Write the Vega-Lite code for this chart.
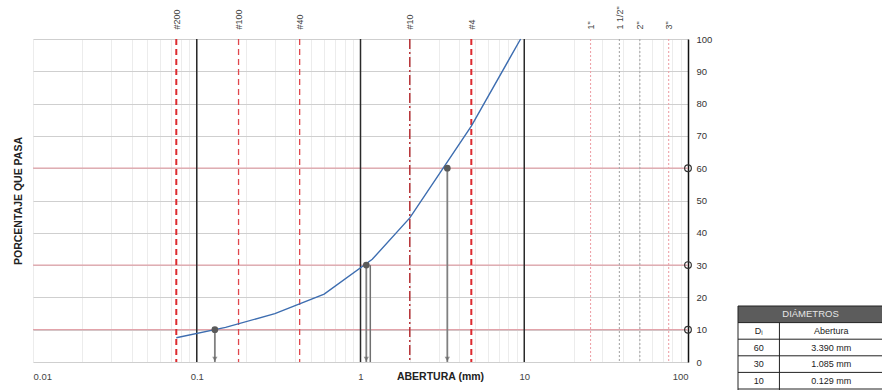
{
  "$schema": "https://vega.github.io/schema/vega-lite/v6.json",
  "padding": {"left": 13, "top": 5, "right": 0, "bottom": 0},
  "autosize": {"type": "pad"},
  "spacing": 25,
  "config": {"view": {"stroke": null}, "font": "Liberation Sans"},
  "datasets": {
    "curva": [
      {"abertura": 0.075, "pasa": 7.5},
      {"abertura": 0.15, "pasa": 10.7},
      {"abertura": 0.3, "pasa": 15.0},
      {"abertura": 0.6, "pasa": 21.0},
      {"abertura": 1.18, "pasa": 31.8},
      {"abertura": 2.0, "pasa": 44.6},
      {"abertura": 4.75, "pasa": 73.0},
      {"abertura": 9.5, "pasa": 100}
    ],
    "tamices": [
      {"tamiz": "#200", "abertura": 0.075},
      {"tamiz": "#100", "abertura": 0.18},
      {"tamiz": "#40", "abertura": 0.425},
      {"tamiz": "#10", "abertura": 2.0},
      {"tamiz": "#4", "abertura": 4.75},
      {"tamiz": "1\"", "abertura": 25.4},
      {"tamiz": "1 1/2\"", "abertura": 38.1},
      {"tamiz": "2\"", "abertura": 50.8},
      {"tamiz": "3\"", "abertura": 76.2}
    ],
    "decadas": [{"abertura": 0.1}, {"abertura": 1}, {"abertura": 10}],
    "diametros": [
      {"d": "D60", "pasa": 60, "abertura": 3.39},
      {"d": "D30", "pasa": 30, "abertura": 1.085},
      {"d": "D10", "pasa": 10, "abertura": 0.129}
    ],
    "filas": [{"fila": "h"}, {"fila": "Di"}, {"fila": "60"}, {"fila": "30"}, {"fila": "10"}, {"fila": "end"}],
    "bordes": [
      {"col": "borde", "desde": "h", "hasta": "end"},
      {"col": "div", "desde": "Di", "hasta": "end"}
    ],
    "celdas": [
      {"fila": "h", "col": "titulo", "texto": "DIÁMETROS"},
      {"fila": "Di", "col": "D", "texto": "Dᵢ"},
      {"fila": "Di", "col": "Abertura", "texto": "Abertura"},
      {"fila": "60", "col": "D", "texto": "60"},
      {"fila": "60", "col": "Abertura", "texto": "3.390 mm"},
      {"fila": "30", "col": "D", "texto": "30"},
      {"fila": "30", "col": "Abertura", "texto": "1.085 mm"},
      {"fila": "10", "col": "D", "texto": "10"},
      {"fila": "10", "col": "Abertura", "texto": "0.129 mm"}
    ]
  },
  "hconcat": [
    {
      "width": 655,
      "height": 323,
      "resolve": {"axis": {"x": "independent", "y": "independent"}},
      "layer": [
        {
          "data": {"name": "diametros"},
          "mark": {"type": "rule", "color": "#e2a3aa", "strokeWidth": 1.2},
          "encoding": {
            "y": {"field": "pasa", "type": "quantitative", "scale": {"domain": [0, 100], "nice": false}, "axis": null}
          }
        },
        {
          "data": {"name": "decadas"},
          "mark": {"type": "rule", "color": "#2a2a2a", "strokeWidth": 1.5},
          "encoding": {
            "x": {"field": "abertura", "type": "quantitative", "scale": {"type": "log", "domain": [0.01, 100], "nice": false}, "axis": null}
          }
        },
        {
          "data": {"name": "tamices"},
          "transform": [{"filter": {"field": "tamiz", "oneOf": ["#200", "#4"]}}],
          "mark": {"type": "rule", "color": "#dd2a2f", "strokeWidth": 2, "strokeDash": [6, 4]},
          "encoding": {
            "x": {
              "field": "abertura", "type": "quantitative",
              "scale": {"type": "log", "domain": [0.01, 100], "nice": false},
              "axis": {
                "orient": "top", "title": null, "grid": false, "domain": false, "ticks": false, "tickSize": 0,
                "values": [0.075, 0.18, 0.425, 2, 4.75, 25.4, 38.1, 50.8, 76.2],
                "labelExpr": "datum.value == 0.075 ? '#200' : datum.value == 0.18 ? '#100' : datum.value == 0.425 ? '#40' : datum.value == 2 ? '#10' : datum.value == 4.75 ? '#4' : datum.value == 25.4 ? '1\"' : datum.value == 38.1 ? '1 1/2\"' : datum.value == 50.8 ? '2\"' : '3\"'",
                "labelAngle": -90, "labelPadding": 10, "labelFontSize": 9, "labelColor": "#444", "labelOverlap": false
              }
            }
          }
        },
        {
          "data": {"name": "tamices"},
          "transform": [{"filter": {"field": "tamiz", "oneOf": ["#100", "#40"]}}],
          "mark": {"type": "rule", "color": "#e0464c", "strokeWidth": 1.3, "strokeDash": [6, 4]},
          "encoding": {
            "x": {"field": "abertura", "type": "quantitative", "scale": {"type": "log", "domain": [0.01, 100], "nice": false}, "axis": null}
          }
        },
        {
          "data": {"name": "tamices"},
          "transform": [{"filter": {"field": "tamiz", "oneOf": ["#10"]}}],
          "mark": {"type": "rule", "color": "#b3262a", "strokeWidth": 1.4, "strokeDash": [10, 3, 2, 3]},
          "encoding": {
            "x": {"field": "abertura", "type": "quantitative", "scale": {"type": "log", "domain": [0.01, 100], "nice": false}, "axis": null}
          }
        },
        {
          "data": {"name": "tamices"},
          "transform": [{"filter": {"field": "tamiz", "oneOf": ["1\"", "3\""]}}],
          "mark": {"type": "rule", "color": "#eea3aa", "strokeWidth": 1.1, "strokeDash": [2, 2]},
          "encoding": {
            "x": {"field": "abertura", "type": "quantitative", "scale": {"type": "log", "domain": [0.01, 100], "nice": false}, "axis": null}
          }
        },
        {
          "data": {"name": "tamices"},
          "transform": [{"filter": {"field": "tamiz", "oneOf": ["1 1/2\"", "2\""]}}],
          "mark": {"type": "rule", "color": "#a8a8a8", "strokeWidth": 1.1, "strokeDash": [2, 2]},
          "encoding": {
            "x": {"field": "abertura", "type": "quantitative", "scale": {"type": "log", "domain": [0.01, 100], "nice": false}, "axis": null}
          }
        },
        {
          "data": {"name": "curva"},
          "mark": {"type": "line", "color": "#3d6db0", "strokeWidth": 1.4},
          "encoding": {
            "x": {
              "field": "abertura", "type": "quantitative",
              "scale": {"type": "log", "domain": [0.01, 100], "nice": false},
              "axis": {
                "orient": "bottom",
                "values": [0.01, 0.02, 0.03, 0.04, 0.05, 0.06, 0.07, 0.08, 0.09, 0.1, 0.2, 0.3, 0.4, 0.5, 0.6, 0.7, 0.8, 0.9, 1, 2, 3, 4, 5, 6, 7, 8, 9, 10, 20, 30, 40, 50, 60, 70, 80, 90, 100],
                "format": "~g",
                "labelExpr": "indexof([0.01, 0.1, 1, 10, 100], datum.value) >= 0 ? datum.label : ''",
                "grid": true, "gridColor": "#ececec", "gridWidth": 1,
                "domain": false, "ticks": false, "tickSize": 0,
                "labelPadding": 9, "labelFontSize": 9.5, "labelColor": "#444", "labelOverlap": false,
                "title": "ABERTURA (mm)", "titleFontSize": 10.5, "titleFontWeight": "bold", "titleColor": "#222",
                "titleX": 407, "titleY": 14, "titleBaseline": "middle", "titleAlign": "center"
              }
            },
            "y": {
              "field": "pasa", "type": "quantitative",
              "scale": {"domain": [0, 100], "nice": false},
              "axis": {
                "orient": "right", "title": null,
                "values": [0, 10, 20, 30, 40, 50, 60, 70, 80, 90, 100],
                "ticks": false, "tickSize": 0, "labelPadding": 8, "labelFontSize": 9.5, "labelColor": "#333",
                "domain": true, "domainColor": "#111", "domainWidth": 1.5,
                "grid": true, "gridColor": "#cfcfcf", "gridWidth": 1
              }
            }
          }
        },
        {
          "data": {"name": "diametros"},
          "mark": {"type": "rule", "color": "#808080", "strokeWidth": 1.8},
          "encoding": {
            "x": {"field": "abertura", "type": "quantitative", "scale": {"type": "log", "domain": [0.01, 100], "nice": false}, "axis": null},
            "y": {"field": "pasa", "type": "quantitative", "scale": {"domain": [0, 100], "nice": false}, "axis": null},
            "y2": {"datum": 0}
          }
        },
        {
          "data": {"name": "diametros"},
          "transform": [{"filter": "datum.d == 'D30'"}],
          "mark": {"type": "rule", "color": "#707070", "strokeWidth": 1.5, "xOffset": 4},
          "encoding": {
            "x": {"field": "abertura", "type": "quantitative", "scale": {"type": "log", "domain": [0.01, 100], "nice": false}, "axis": null},
            "y": {"field": "pasa", "type": "quantitative", "scale": {"domain": [0, 100], "nice": false}, "axis": null},
            "y2": {"datum": 0}
          }
        },
        {
          "data": {"name": "diametros"},
          "mark": {"type": "point", "shape": "triangle-down", "filled": true, "color": "#666", "size": 28, "yOffset": -3},
          "encoding": {
            "x": {"field": "abertura", "type": "quantitative", "scale": {"type": "log", "domain": [0.01, 100], "nice": false}, "axis": null},
            "y": {"datum": 0, "type": "quantitative", "scale": {"domain": [0, 100], "nice": false}, "axis": null}
          }
        },
        {
          "data": {"name": "diametros"},
          "mark": {"type": "point", "shape": "circle", "filled": true, "color": "#5a5a5a", "size": 45, "opacity": 1},
          "encoding": {
            "x": {"field": "abertura", "type": "quantitative", "scale": {"type": "log", "domain": [0.01, 100], "nice": false}, "axis": null},
            "y": {
              "field": "pasa", "type": "quantitative",
              "scale": {"domain": [0, 100], "nice": false},
              "axis": {
                "orient": "left", "title": "PORCENTAJE QUE PASA", "labels": false, "ticks": false, "tickSize": 0,
                "domain": false, "grid": false, "titlePadding": 10, "titleFontSize": 10.5,
                "titleFontWeight": "bold", "titleColor": "#222"
              }
            }
          }
        },
        {
          "data": {"name": "diametros"},
          "mark": {"type": "point", "shape": "circle", "filled": false, "color": "#333", "size": 45, "strokeWidth": 1.2, "opacity": 1},
          "encoding": {
            "x": {"datum": 100, "type": "quantitative", "scale": {"type": "log", "domain": [0.01, 100], "nice": false}, "axis": null},
            "y": {"field": "pasa", "type": "quantitative", "scale": {"domain": [0, 100], "nice": false}, "axis": null}
          }
        }
      ]
    },
    {
      "width": 145,
      "height": 323,
      "layer": [
        {
          "data": {"name": "filas"},
          "transform": [{"filter": "datum.fila == 'h'"}],
          "mark": {"type": "rect", "color": "#5c5c5c"},
          "encoding": {
            "y": {"field": "fila", "type": "nominal", "scale": {"type": "band", "domain": ["h", "Di", "60", "30", "10", "end"], "range": [267, 366.6], "paddingInner": 0, "paddingOuter": 0}, "axis": null}
          }
        },
        {
          "data": {"name": "filas"},
          "mark": {"type": "rule", "color": "#222", "strokeWidth": 1},
          "encoding": {
            "y": {"field": "fila", "type": "nominal", "bandPosition": 0, "scale": {"type": "band", "domain": ["h", "Di", "60", "30", "10", "end"], "range": [267, 366.6], "paddingInner": 0, "paddingOuter": 0}, "axis": null}
          }
        },
        {
          "data": {"name": "bordes"},
          "mark": {"type": "rule", "color": "#222", "strokeWidth": 1},
          "encoding": {
            "x": {"field": "col", "type": "nominal", "scale": {"type": "point", "domain": ["borde", "x1", "D", "x3", "div", "x5", "x6", "titulo", "x8", "Abertura", "x10", "x11", "x12", "x13", "fin"], "padding": 0}, "axis": null},
            "y": {"field": "desde", "type": "nominal", "bandPosition": 0, "scale": {"type": "band", "domain": ["h", "Di", "60", "30", "10", "end"], "range": [267, 366.6], "paddingInner": 0, "paddingOuter": 0}, "axis": null},
            "y2": {"field": "hasta"}
          }
        },
        {
          "data": {"name": "celdas"},
          "transform": [{"filter": "datum.fila == 'h'"}],
          "mark": {"type": "text", "color": "#e6e6e6", "fontSize": 9.5, "align": "center", "baseline": "middle"},
          "encoding": {
            "x": {"field": "col", "type": "nominal", "scale": {"type": "point", "domain": ["borde", "x1", "D", "x3", "div", "x5", "x6", "titulo", "x8", "Abertura", "x10", "x11", "x12", "x13", "fin"], "padding": 0}, "axis": null},
            "y": {"field": "fila", "type": "nominal", "scale": {"type": "band", "domain": ["h", "Di", "60", "30", "10", "end"], "range": [267, 366.6], "paddingInner": 0, "paddingOuter": 0}, "axis": null},
            "text": {"field": "texto"}
          }
        },
        {
          "data": {"name": "celdas"},
          "transform": [{"filter": "datum.fila != 'h'"}],
          "mark": {"type": "text", "color": "#222", "fontSize": 9, "align": "center", "baseline": "middle"},
          "encoding": {
            "x": {"field": "col", "type": "nominal", "scale": {"type": "point", "domain": ["borde", "x1", "D", "x3", "div", "x5", "x6", "titulo", "x8", "Abertura", "x10", "x11", "x12", "x13", "fin"], "padding": 0}, "axis": null},
            "y": {"field": "fila", "type": "nominal", "scale": {"type": "band", "domain": ["h", "Di", "60", "30", "10", "end"], "range": [267, 366.6], "paddingInner": 0, "paddingOuter": 0}, "axis": null},
            "text": {"field": "texto"},
            "fontWeight": {"condition": {"test": "datum.fila == 'Di' || datum.col == 'D'", "value": "bold"}, "value": "normal"}
          }
        }
      ]
    }
  ]
}
